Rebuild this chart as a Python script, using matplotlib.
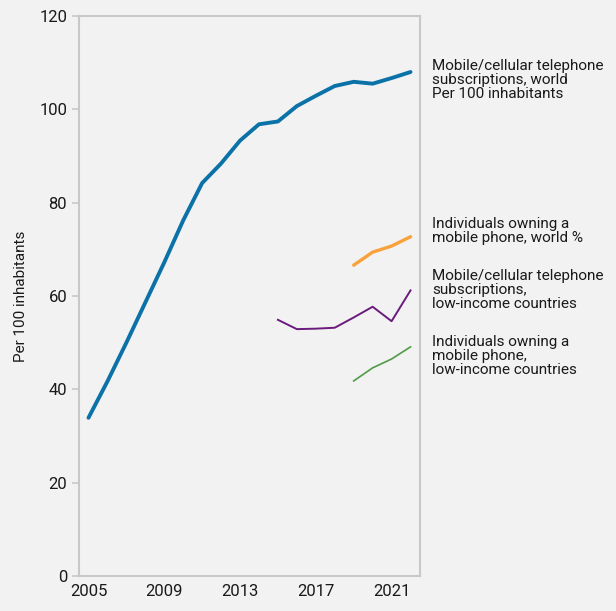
import matplotlib
matplotlib.use("Agg")
import matplotlib.pyplot as plt

# data
years = list(range(2005, 2023))
subs_world = [33.9, 41.7, 50.0, 58.6, 67.2, 76.2, 84.2, 88.4, 93.3, 96.8, 97.4,
              100.7, 102.9, 105.0, 105.9, 105.5, 106.7, 108.0]
own_years = [2019, 2020, 2021, 2022]
own_world = [66.6, 69.4, 70.7, 72.7]
own_low = [41.8, 44.6, 46.5, 49.1]
low_years = list(range(2015, 2023))
subs_low = [54.9, 52.9, 53.0, 53.2, 55.4, 57.7, 54.6, 61.2]

labels = [
    "Mobile/cellular telephone\nsubscriptions, world\nPer 100 inhabitants",
    "Individuals owning a\nmobile phone, world %",
    "Mobile/cellular telephone\nsubscriptions,\nlow-income countries",
    "Individuals owning a\nmobile phone,\nlow-income countries",
]
label_y = [80, 231, 290, 356]   # pixel centres of the right-hand labels

BG = "#f2f2f2"
GRID = "#c8c8c8"
INK = "#1a1a1a"
FONT = ["Roboto", "DejaVu Sans"]

plt.rcParams["font.family"] = FONT

fig = plt.figure(figsize=(6.16, 6.11), dpi=100, facecolor=BG)
ax = fig.add_axes([79 / 616, 35 / 611, 341 / 616, 560 / 611], facecolor=BG)

ax.plot(years, subs_world, color="#0b72a8", lw=2.8, solid_capstyle="round")
ax.plot(own_years, own_world, color="#f9a23b", lw=2.4, solid_capstyle="round")
ax.plot(low_years, subs_low, color="#6a1b7c", lw=1.4)
ax.plot(own_years, own_low, color="#4f9b47", lw=1.2)

ax.set_xlim(2004.5, 2022.5)
ax.set_ylim(0, 120)
ax.set_xticks([2005, 2009, 2013, 2017, 2021])
ax.set_yticks(range(0, 121, 20))
ax.tick_params(axis="y", colors=GRID, labelcolor=INK, labelsize=12, length=5, width=1.2)
ax.tick_params(axis="x", length=0, labelcolor=INK, labelsize=12, pad=6)
for s in ax.spines.values():
    s.set_color(GRID)
    s.set_linewidth(1.5)

ax.set_ylabel("Per 100 inhabitants", fontsize=11, color=INK, labelpad=8)

for txt, py in zip(labels, label_y):
    fig.text(432 / 616, 1 - py / 611, txt, ha="left", va="center",
             fontsize=11, color=INK, linespacing=1.0)

fig.savefig("out.png", dpi=100, facecolor=BG)
